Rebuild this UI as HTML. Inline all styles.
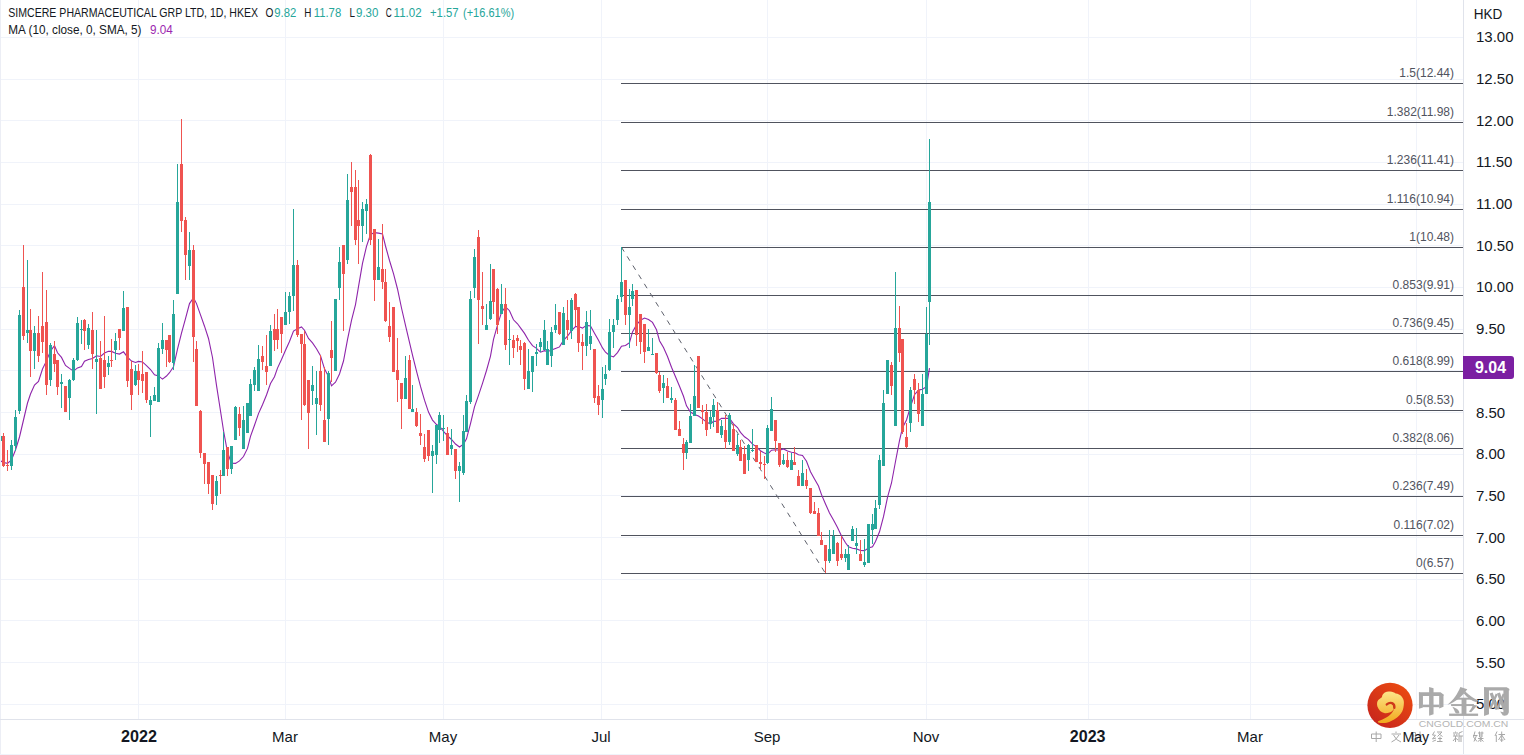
<!DOCTYPE html>
<html><head><meta charset="utf-8">
<style>
html,body{margin:0;padding:0;background:#fff;}
body{width:1524px;height:755px;overflow:hidden;position:relative;font-family:"Liberation Sans",sans-serif;}
svg{position:absolute;left:0;top:0;}
.fl{font-size:12px;fill:#50535e;font-family:"Liberation Sans",sans-serif;}
.pl{font-size:15px;fill:#131722;font-family:"Liberation Sans",sans-serif;}
.tl{font-size:15px;fill:#131722;font-family:"Liberation Sans",sans-serif;}
.lg{font-size:13px;fill:#131722;font-family:"Liberation Sans",sans-serif;}
</style></head>
<body>
<svg width="1524" height="755" viewBox="0 0 1524 755" shape-rendering="crispEdges">
<rect x="0" y="0" width="1524" height="755" fill="#ffffff"/>
<rect x="0" y="37" width="1463" height="1" fill="#f0f3fa"/><rect x="0" y="79" width="1463" height="1" fill="#f0f3fa"/><rect x="0" y="120" width="1463" height="1" fill="#f0f3fa"/><rect x="0" y="162" width="1463" height="1" fill="#f0f3fa"/><rect x="0" y="204" width="1463" height="1" fill="#f0f3fa"/><rect x="0" y="245" width="1463" height="1" fill="#f0f3fa"/><rect x="0" y="287" width="1463" height="1" fill="#f0f3fa"/><rect x="0" y="329" width="1463" height="1" fill="#f0f3fa"/><rect x="0" y="370" width="1463" height="1" fill="#f0f3fa"/><rect x="0" y="412" width="1463" height="1" fill="#f0f3fa"/><rect x="0" y="454" width="1463" height="1" fill="#f0f3fa"/><rect x="0" y="495" width="1463" height="1" fill="#f0f3fa"/><rect x="0" y="537" width="1463" height="1" fill="#f0f3fa"/><rect x="0" y="579" width="1463" height="1" fill="#f0f3fa"/><rect x="0" y="620" width="1463" height="1" fill="#f0f3fa"/><rect x="0" y="662" width="1463" height="1" fill="#f0f3fa"/><rect x="0" y="704" width="1463" height="1" fill="#f0f3fa"/><rect x="138" y="0" width="1" height="719" fill="#f0f3fa"/><rect x="285" y="0" width="1" height="719" fill="#f0f3fa"/><rect x="443" y="0" width="1" height="719" fill="#f0f3fa"/><rect x="601" y="0" width="1" height="719" fill="#f0f3fa"/><rect x="767" y="0" width="1" height="719" fill="#f0f3fa"/><rect x="926" y="0" width="1" height="719" fill="#f0f3fa"/><rect x="1088" y="0" width="1" height="719" fill="#f0f3fa"/><rect x="1250" y="0" width="1" height="719" fill="#f0f3fa"/><rect x="1416" y="0" width="1" height="719" fill="#f0f3fa"/>
<rect x="621" y="83" width="842" height="1" fill="#50535e"/><text x="1454" y="77" text-anchor="end" class="fl">1.5(12.44)</text><rect x="621" y="122" width="842" height="1" fill="#50535e"/><text x="1454" y="116" text-anchor="end" class="fl">1.382(11.98)</text><rect x="621" y="170" width="842" height="1" fill="#50535e"/><text x="1454" y="164" text-anchor="end" class="fl">1.236(11.41)</text><rect x="621" y="209" width="842" height="1" fill="#50535e"/><text x="1454" y="203" text-anchor="end" class="fl">1.116(10.94)</text><rect x="621" y="247" width="842" height="1" fill="#50535e"/><text x="1454" y="241" text-anchor="end" class="fl">1(10.48)</text><rect x="621" y="295" width="842" height="1" fill="#50535e"/><text x="1454" y="289" text-anchor="end" class="fl">0.853(9.91)</text><rect x="621" y="333" width="842" height="1" fill="#50535e"/><text x="1454" y="327" text-anchor="end" class="fl">0.736(9.45)</text><rect x="621" y="371" width="842" height="1" fill="#50535e"/><text x="1454" y="365" text-anchor="end" class="fl">0.618(8.99)</text><rect x="621" y="410" width="842" height="1" fill="#50535e"/><text x="1454" y="404" text-anchor="end" class="fl">0.5(8.53)</text><rect x="621" y="448" width="842" height="1" fill="#50535e"/><text x="1454" y="442" text-anchor="end" class="fl">0.382(8.06)</text><rect x="621" y="496" width="842" height="1" fill="#50535e"/><text x="1454" y="490" text-anchor="end" class="fl">0.236(7.49)</text><rect x="621" y="535" width="842" height="1" fill="#50535e"/><text x="1454" y="529" text-anchor="end" class="fl">0.116(7.02)</text><rect x="621" y="573" width="842" height="1" fill="#50535e"/><text x="1454" y="567" text-anchor="end" class="fl">0(6.57)</text>
<line x1="621.4" y1="247.2" x2="825.5" y2="573.4" stroke="#5d606b" stroke-width="1" stroke-dasharray="5.2 5.6" shape-rendering="geometricPrecision"/>
<path d="M0.0,460.5 L3.5,462.5 L7.5,463.3 L11.5,460.0 L15.5,450.0 L19.5,437.0 L23.5,420.0 L27.5,403.0 L30.5,394.0 L34.5,385.0 L38.5,381.5 L42.5,369.0 L46.5,360.9 L50.5,350.9 L54.5,345.6 L57.5,352.8 L61.5,357.4 L65.5,365.5 L69.5,368.4 L73.5,371.1 L77.5,367.9 L81.5,366.6 L84.5,361.2 L88.5,359.5 L92.5,358.5 L96.5,355.8 L100.5,356.5 L104.5,353.0 L108.5,351.3 L111.5,351.4 L115.5,353.2 L119.5,354.1 L123.5,351.8 L127.5,357.1 L131.5,361.1 L135.5,362.4 L138.5,361.4 L142.5,361.9 L146.5,365.6 L150.5,369.5 L154.5,374.8 L158.5,375.9 L162.5,379.1 L166.5,376.0 L169.5,372.7 L173.5,366.9 L177.5,349.1 L181.5,333.1 L185.5,318.6 L189.5,303.6 L193.5,297.8 L196.5,303.6 L200.5,314.9 L204.5,326.2 L208.5,338.5 L212.5,357.5 L216.5,385.4 L220.5,411.0 L223.5,430.5 L227.5,452.4 L231.5,463.3 L235.5,463.4 L239.5,460.9 L243.5,456.5 L247.5,448.4 L250.5,436.4 L254.5,425.3 L258.5,413.6 L262.5,404.7 L266.5,395.0 L270.5,383.5 L274.5,376.8 L277.5,368.1 L281.5,359.5 L285.5,350.3 L289.5,341.5 L293.5,331.1 L297.5,328.7 L301.5,326.9 L304.5,330.2 L308.5,338.4 L312.5,342.9 L316.5,348.7 L320.5,355.8 L324.5,368.8 L328.5,376.5 L331.5,385.8 L335.5,382.2 L339.5,374.0 L343.5,361.0 L347.5,339.7 L351.5,320.4 L355.5,304.6 L358.5,286.6 L362.5,263.4 L366.5,246.4 L370.5,234.5 L374.5,232.6 L378.5,233.1 L382.5,233.9 L385.5,246.0 L389.5,260.5 L393.5,273.6 L397.5,289.0 L401.5,308.0 L405.5,325.4 L409.5,342.3 L412.5,355.2 L416.5,371.1 L420.5,386.4 L424.5,400.2 L428.5,412.1 L432.5,420.1 L436.5,424.6 L439.5,426.2 L443.5,431.3 L447.5,435.9 L451.5,439.5 L455.5,444.0 L459.5,447.0 L463.5,444.2 L466.5,438.8 L470.5,423.6 L474.5,406.8 L478.5,395.4 L482.5,383.4 L486.5,370.5 L490.5,356.1 L493.5,339.3 L497.5,325.1 L501.5,312.4 L505.5,306.8 L509.5,310.7 L513.5,319.8 L517.5,323.8 L520.5,327.9 L524.5,333.4 L528.5,340.3 L532.5,345.7 L536.5,348.4 L540.5,352.2 L544.5,350.7 L547.5,351.7 L551.5,350.1 L555.5,348.5 L559.5,346.9 L563.5,340.3 L567.5,336.2 L571.5,330.6 L575.5,326.5 L578.5,326.6 L582.5,328.1 L586.5,325.4 L590.5,325.9 L594.5,333.2 L598.5,340.2 L602.5,347.9 L605.5,352.2 L609.5,355.5 L613.5,356.9 L617.5,352.6 L621.5,346.2 L625.5,345.5 L629.5,342.6 L632.5,331.9 L636.5,324.9 L640.5,320.2 L644.5,318.1 L648.5,319.6 L652.5,322.4 L656.5,329.8 L659.5,340.7 L663.5,347.5 L667.5,356.5 L671.5,367.3 L675.5,376.8 L679.5,386.2 L683.5,396.3 L686.5,405.8 L690.5,412.1 L694.5,414.4 L698.5,416.1 L702.5,418.9 L706.5,422.1 L710.5,424.0 L713.5,421.4 L717.5,421.2 L721.5,418.4 L725.5,418.4 L729.5,418.3 L733.5,423.8 L737.5,427.5 L740.5,432.4 L744.5,436.8 L748.5,439.6 L752.5,444.1 L756.5,446.9 L760.5,450.7 L764.5,453.1 L767.5,454.4 L771.5,450.2 L775.5,449.8 L779.5,450.3 L783.5,448.9 L787.5,451.1 L791.5,452.2 L794.5,452.6 L798.5,454.7 L802.5,455.5 L806.5,461.2 L810.5,471.7 L814.5,479.0 L818.5,486.1 L821.5,494.6 L825.5,504.0 L829.5,512.9 L833.5,520.0 L837.5,527.5 L841.5,536.0 L845.5,542.8 L848.5,546.8 L852.5,548.3 L856.5,548.9 L860.5,550.5 L864.5,550.6 L868.5,548.1 L872.5,546.8 L875.5,541.5 L879.5,531.8 L883.5,516.7 L887.5,497.4 L891.5,483.0 L895.5,461.5 L899.5,440.7 L902.5,427.7 L906.5,420.0 L910.5,406.6 L914.5,394.7 L918.5,390.1 L922.5,389.2 L926.5,386.6 L929.5,368.2" fill="none" stroke="#8e24aa" stroke-width="1.1" shape-rendering="geometricPrecision"/>
<g><rect x="0" y="433" width="1" height="16" fill="#26a69a"/><rect x="-1" y="436" width="3" height="5" fill="#26a69a"/><rect x="3" y="433" width="1" height="34" fill="#ef5350"/><rect x="2" y="436" width="3" height="30" fill="#ef5350"/><rect x="7" y="450" width="1" height="21" fill="#ef5350"/><rect x="6" y="465" width="3" height="1" fill="#ef5350"/><rect x="11" y="440" width="1" height="30" fill="#26a69a"/><rect x="10" y="445" width="3" height="21" fill="#26a69a"/><rect x="15" y="410" width="1" height="41" fill="#26a69a"/><rect x="14" y="417" width="3" height="29" fill="#26a69a"/><rect x="19" y="310" width="1" height="104" fill="#26a69a"/><rect x="18" y="315" width="3" height="96" fill="#26a69a"/><rect x="23" y="245" width="1" height="95" fill="#ef5350"/><rect x="22" y="287" width="3" height="49" fill="#ef5350"/><rect x="27" y="260" width="1" height="83" fill="#26a69a"/><rect x="26" y="330" width="3" height="3" fill="#26a69a"/><rect x="30" y="309" width="1" height="68" fill="#ef5350"/><rect x="29" y="330" width="3" height="21" fill="#ef5350"/><rect x="34" y="326" width="1" height="43" fill="#26a69a"/><rect x="33" y="333" width="3" height="18" fill="#26a69a"/><rect x="38" y="316" width="1" height="46" fill="#ef5350"/><rect x="37" y="333" width="3" height="23" fill="#ef5350"/><rect x="42" y="272" width="1" height="81" fill="#ef5350"/><rect x="41" y="326" width="3" height="16" fill="#ef5350"/><rect x="46" y="290" width="1" height="105" fill="#ef5350"/><rect x="45" y="322" width="3" height="63" fill="#ef5350"/><rect x="50" y="343" width="1" height="43" fill="#26a69a"/><rect x="49" y="345" width="3" height="35" fill="#26a69a"/><rect x="54" y="341" width="1" height="31" fill="#ef5350"/><rect x="53" y="354" width="3" height="10" fill="#ef5350"/><rect x="57" y="360" width="1" height="35" fill="#ef5350"/><rect x="56" y="360" width="3" height="27" fill="#ef5350"/><rect x="61" y="374" width="1" height="34" fill="#26a69a"/><rect x="60" y="382" width="3" height="2" fill="#26a69a"/><rect x="65" y="386" width="1" height="26" fill="#ef5350"/><rect x="64" y="386" width="3" height="26" fill="#ef5350"/><rect x="69" y="379" width="1" height="41" fill="#26a69a"/><rect x="68" y="380" width="3" height="18" fill="#26a69a"/><rect x="73" y="358" width="1" height="23" fill="#26a69a"/><rect x="72" y="360" width="3" height="20" fill="#26a69a"/><rect x="77" y="317" width="1" height="44" fill="#26a69a"/><rect x="76" y="323" width="3" height="37" fill="#26a69a"/><rect x="81" y="320" width="1" height="24" fill="#26a69a"/><rect x="80" y="329" width="3" height="1" fill="#26a69a"/><rect x="84" y="319" width="1" height="31" fill="#ef5350"/><rect x="83" y="320" width="3" height="11" fill="#ef5350"/><rect x="88" y="324" width="1" height="25" fill="#26a69a"/><rect x="87" y="328" width="3" height="17" fill="#26a69a"/><rect x="92" y="312" width="1" height="57" fill="#ef5350"/><rect x="91" y="330" width="3" height="24" fill="#ef5350"/><rect x="96" y="330" width="1" height="84" fill="#26a69a"/><rect x="95" y="359" width="3" height="3" fill="#26a69a"/><rect x="100" y="341" width="1" height="48" fill="#ef5350"/><rect x="99" y="358" width="3" height="31" fill="#ef5350"/><rect x="104" y="316" width="1" height="72" fill="#ef5350"/><rect x="103" y="360" width="3" height="17" fill="#ef5350"/><rect x="108" y="356" width="1" height="19" fill="#26a69a"/><rect x="107" y="363" width="3" height="4" fill="#26a69a"/><rect x="111" y="339" width="1" height="28" fill="#ef5350"/><rect x="110" y="360" width="3" height="1" fill="#ef5350"/><rect x="115" y="333" width="1" height="27" fill="#26a69a"/><rect x="114" y="341" width="3" height="9" fill="#26a69a"/><rect x="119" y="329" width="1" height="21" fill="#ef5350"/><rect x="118" y="329" width="3" height="9" fill="#ef5350"/><rect x="123" y="291" width="1" height="40" fill="#26a69a"/><rect x="122" y="308" width="3" height="23" fill="#26a69a"/><rect x="127" y="307" width="1" height="80" fill="#ef5350"/><rect x="126" y="307" width="3" height="74" fill="#ef5350"/><rect x="131" y="361" width="1" height="49" fill="#ef5350"/><rect x="130" y="369" width="3" height="26" fill="#ef5350"/><rect x="135" y="365" width="1" height="21" fill="#26a69a"/><rect x="134" y="371" width="3" height="14" fill="#26a69a"/><rect x="138" y="364" width="1" height="31" fill="#ef5350"/><rect x="137" y="371" width="3" height="9" fill="#ef5350"/><rect x="142" y="351" width="1" height="42" fill="#ef5350"/><rect x="141" y="374" width="3" height="7" fill="#ef5350"/><rect x="146" y="372" width="1" height="31" fill="#ef5350"/><rect x="145" y="372" width="3" height="28" fill="#ef5350"/><rect x="150" y="396" width="1" height="41" fill="#26a69a"/><rect x="149" y="400" width="3" height="5" fill="#26a69a"/><rect x="154" y="387" width="1" height="14" fill="#26a69a"/><rect x="153" y="395" width="3" height="6" fill="#26a69a"/><rect x="158" y="343" width="1" height="59" fill="#26a69a"/><rect x="157" y="348" width="3" height="54" fill="#26a69a"/><rect x="162" y="323" width="1" height="31" fill="#26a69a"/><rect x="161" y="340" width="3" height="9" fill="#26a69a"/><rect x="166" y="340" width="1" height="27" fill="#ef5350"/><rect x="165" y="340" width="3" height="10" fill="#ef5350"/><rect x="169" y="335" width="1" height="28" fill="#ef5350"/><rect x="168" y="335" width="3" height="27" fill="#ef5350"/><rect x="173" y="300" width="1" height="70" fill="#26a69a"/><rect x="172" y="314" width="3" height="49" fill="#26a69a"/><rect x="177" y="164" width="1" height="130" fill="#26a69a"/><rect x="176" y="202" width="3" height="92" fill="#26a69a"/><rect x="181" y="119" width="1" height="113" fill="#ef5350"/><rect x="180" y="164" width="3" height="57" fill="#ef5350"/><rect x="185" y="217" width="1" height="63" fill="#ef5350"/><rect x="184" y="220" width="3" height="35" fill="#ef5350"/><rect x="189" y="232" width="1" height="48" fill="#26a69a"/><rect x="188" y="250" width="3" height="16" fill="#26a69a"/><rect x="193" y="245" width="1" height="117" fill="#ef5350"/><rect x="192" y="250" width="3" height="87" fill="#ef5350"/><rect x="196" y="341" width="1" height="65" fill="#ef5350"/><rect x="195" y="349" width="3" height="57" fill="#ef5350"/><rect x="200" y="410" width="1" height="48" fill="#ef5350"/><rect x="199" y="411" width="3" height="42" fill="#ef5350"/><rect x="204" y="453" width="1" height="31" fill="#ef5350"/><rect x="203" y="453" width="3" height="11" fill="#ef5350"/><rect x="208" y="462" width="1" height="32" fill="#ef5350"/><rect x="207" y="462" width="3" height="22" fill="#ef5350"/><rect x="212" y="475" width="1" height="35" fill="#ef5350"/><rect x="211" y="475" width="3" height="29" fill="#ef5350"/><rect x="216" y="476" width="1" height="29" fill="#26a69a"/><rect x="215" y="481" width="3" height="15" fill="#26a69a"/><rect x="220" y="470" width="1" height="24" fill="#ef5350"/><rect x="219" y="475" width="3" height="1" fill="#ef5350"/><rect x="223" y="432" width="1" height="44" fill="#26a69a"/><rect x="222" y="450" width="3" height="26" fill="#26a69a"/><rect x="227" y="447" width="1" height="29" fill="#ef5350"/><rect x="226" y="447" width="3" height="22" fill="#ef5350"/><rect x="231" y="446" width="1" height="28" fill="#26a69a"/><rect x="230" y="446" width="3" height="23" fill="#26a69a"/><rect x="235" y="406" width="1" height="34" fill="#26a69a"/><rect x="234" y="407" width="3" height="33" fill="#26a69a"/><rect x="239" y="407" width="1" height="29" fill="#ef5350"/><rect x="238" y="414" width="3" height="14" fill="#ef5350"/><rect x="243" y="406" width="1" height="43" fill="#26a69a"/><rect x="242" y="420" width="3" height="29" fill="#26a69a"/><rect x="247" y="403" width="1" height="30" fill="#26a69a"/><rect x="246" y="403" width="3" height="30" fill="#26a69a"/><rect x="250" y="379" width="1" height="37" fill="#26a69a"/><rect x="249" y="384" width="3" height="32" fill="#26a69a"/><rect x="254" y="367" width="1" height="24" fill="#26a69a"/><rect x="253" y="370" width="3" height="15" fill="#26a69a"/><rect x="258" y="345" width="1" height="46" fill="#26a69a"/><rect x="257" y="359" width="3" height="32" fill="#26a69a"/><rect x="262" y="346" width="1" height="24" fill="#ef5350"/><rect x="261" y="356" width="3" height="6" fill="#ef5350"/><rect x="266" y="335" width="1" height="50" fill="#ef5350"/><rect x="265" y="366" width="3" height="6" fill="#ef5350"/><rect x="270" y="325" width="1" height="41" fill="#26a69a"/><rect x="269" y="331" width="3" height="35" fill="#26a69a"/><rect x="274" y="314" width="1" height="37" fill="#ef5350"/><rect x="273" y="329" width="3" height="11" fill="#ef5350"/><rect x="277" y="309" width="1" height="40" fill="#ef5350"/><rect x="276" y="329" width="3" height="11" fill="#ef5350"/><rect x="281" y="317" width="1" height="36" fill="#ef5350"/><rect x="280" y="317" width="3" height="17" fill="#ef5350"/><rect x="285" y="292" width="1" height="33" fill="#26a69a"/><rect x="284" y="312" width="3" height="13" fill="#26a69a"/><rect x="289" y="292" width="1" height="32" fill="#26a69a"/><rect x="288" y="296" width="3" height="16" fill="#26a69a"/><rect x="293" y="209" width="1" height="102" fill="#26a69a"/><rect x="292" y="265" width="3" height="31" fill="#26a69a"/><rect x="297" y="260" width="1" height="77" fill="#ef5350"/><rect x="296" y="265" width="3" height="70" fill="#ef5350"/><rect x="301" y="334" width="1" height="86" fill="#ef5350"/><rect x="300" y="334" width="3" height="10" fill="#ef5350"/><rect x="304" y="331" width="1" height="75" fill="#ef5350"/><rect x="303" y="344" width="3" height="61" fill="#ef5350"/><rect x="308" y="380" width="1" height="69" fill="#ef5350"/><rect x="307" y="380" width="3" height="33" fill="#ef5350"/><rect x="312" y="366" width="1" height="39" fill="#26a69a"/><rect x="311" y="385" width="3" height="6" fill="#26a69a"/><rect x="316" y="371" width="1" height="64" fill="#26a69a"/><rect x="315" y="398" width="3" height="6" fill="#26a69a"/><rect x="320" y="355" width="1" height="56" fill="#ef5350"/><rect x="319" y="371" width="3" height="34" fill="#ef5350"/><rect x="324" y="367" width="1" height="75" fill="#ef5350"/><rect x="323" y="420" width="3" height="22" fill="#ef5350"/><rect x="328" y="371" width="1" height="74" fill="#26a69a"/><rect x="327" y="373" width="3" height="46" fill="#26a69a"/><rect x="331" y="321" width="1" height="61" fill="#ef5350"/><rect x="330" y="350" width="3" height="8" fill="#ef5350"/><rect x="335" y="299" width="1" height="72" fill="#26a69a"/><rect x="334" y="299" width="3" height="72" fill="#26a69a"/><rect x="339" y="247" width="1" height="53" fill="#26a69a"/><rect x="338" y="262" width="3" height="26" fill="#26a69a"/><rect x="343" y="245" width="1" height="86" fill="#ef5350"/><rect x="342" y="245" width="3" height="29" fill="#ef5350"/><rect x="347" y="174" width="1" height="90" fill="#26a69a"/><rect x="346" y="200" width="3" height="60" fill="#26a69a"/><rect x="351" y="162" width="1" height="64" fill="#ef5350"/><rect x="350" y="187" width="3" height="5" fill="#ef5350"/><rect x="355" y="170" width="1" height="75" fill="#ef5350"/><rect x="354" y="187" width="3" height="53" fill="#ef5350"/><rect x="358" y="180" width="1" height="84" fill="#ef5350"/><rect x="357" y="220" width="3" height="6" fill="#ef5350"/><rect x="362" y="202" width="1" height="40" fill="#26a69a"/><rect x="361" y="209" width="3" height="17" fill="#26a69a"/><rect x="366" y="199" width="1" height="35" fill="#26a69a"/><rect x="365" y="204" width="3" height="7" fill="#26a69a"/><rect x="370" y="154" width="1" height="91" fill="#ef5350"/><rect x="369" y="155" width="3" height="85" fill="#ef5350"/><rect x="374" y="229" width="1" height="72" fill="#ef5350"/><rect x="373" y="229" width="3" height="51" fill="#ef5350"/><rect x="378" y="239" width="1" height="41" fill="#26a69a"/><rect x="377" y="267" width="3" height="13" fill="#26a69a"/><rect x="382" y="224" width="1" height="65" fill="#ef5350"/><rect x="381" y="269" width="3" height="13" fill="#ef5350"/><rect x="385" y="269" width="1" height="53" fill="#ef5350"/><rect x="384" y="282" width="3" height="39" fill="#ef5350"/><rect x="389" y="302" width="1" height="40" fill="#ef5350"/><rect x="388" y="326" width="3" height="11" fill="#ef5350"/><rect x="393" y="307" width="1" height="65" fill="#ef5350"/><rect x="392" y="307" width="3" height="65" fill="#ef5350"/><rect x="397" y="338" width="1" height="64" fill="#ef5350"/><rect x="396" y="370" width="3" height="10" fill="#ef5350"/><rect x="401" y="383" width="1" height="46" fill="#ef5350"/><rect x="400" y="383" width="3" height="16" fill="#ef5350"/><rect x="405" y="356" width="1" height="43" fill="#26a69a"/><rect x="404" y="378" width="3" height="21" fill="#26a69a"/><rect x="409" y="355" width="1" height="54" fill="#ef5350"/><rect x="408" y="360" width="3" height="49" fill="#ef5350"/><rect x="412" y="385" width="1" height="27" fill="#26a69a"/><rect x="411" y="409" width="3" height="3" fill="#26a69a"/><rect x="416" y="408" width="1" height="19" fill="#ef5350"/><rect x="415" y="412" width="3" height="14" fill="#ef5350"/><rect x="420" y="414" width="1" height="31" fill="#ef5350"/><rect x="419" y="433" width="3" height="3" fill="#ef5350"/><rect x="424" y="434" width="1" height="28" fill="#ef5350"/><rect x="423" y="447" width="3" height="12" fill="#ef5350"/><rect x="428" y="430" width="1" height="31" fill="#ef5350"/><rect x="427" y="430" width="3" height="26" fill="#ef5350"/><rect x="432" y="445" width="1" height="48" fill="#26a69a"/><rect x="431" y="451" width="3" height="5" fill="#26a69a"/><rect x="436" y="425" width="1" height="39" fill="#26a69a"/><rect x="435" y="425" width="3" height="30" fill="#26a69a"/><rect x="439" y="412" width="1" height="31" fill="#26a69a"/><rect x="438" y="415" width="3" height="15" fill="#26a69a"/><rect x="443" y="415" width="1" height="26" fill="#26a69a"/><rect x="442" y="428" width="3" height="1" fill="#26a69a"/><rect x="447" y="427" width="1" height="28" fill="#ef5350"/><rect x="446" y="433" width="3" height="22" fill="#ef5350"/><rect x="451" y="429" width="1" height="26" fill="#26a69a"/><rect x="450" y="445" width="3" height="4" fill="#26a69a"/><rect x="455" y="449" width="1" height="30" fill="#ef5350"/><rect x="454" y="449" width="3" height="22" fill="#ef5350"/><rect x="459" y="462" width="1" height="40" fill="#26a69a"/><rect x="458" y="466" width="3" height="5" fill="#26a69a"/><rect x="463" y="415" width="1" height="60" fill="#26a69a"/><rect x="462" y="431" width="3" height="42" fill="#26a69a"/><rect x="466" y="395" width="1" height="37" fill="#26a69a"/><rect x="465" y="401" width="3" height="31" fill="#26a69a"/><rect x="470" y="291" width="1" height="113" fill="#26a69a"/><rect x="469" y="299" width="3" height="103" fill="#26a69a"/><rect x="474" y="249" width="1" height="49" fill="#26a69a"/><rect x="473" y="257" width="3" height="31" fill="#26a69a"/><rect x="478" y="230" width="1" height="114" fill="#ef5350"/><rect x="477" y="237" width="3" height="63" fill="#ef5350"/><rect x="482" y="272" width="1" height="53" fill="#ef5350"/><rect x="481" y="306" width="3" height="3" fill="#ef5350"/><rect x="486" y="304" width="1" height="26" fill="#26a69a"/><rect x="485" y="325" width="3" height="5" fill="#26a69a"/><rect x="490" y="264" width="1" height="56" fill="#26a69a"/><rect x="489" y="301" width="3" height="18" fill="#26a69a"/><rect x="493" y="269" width="1" height="45" fill="#ef5350"/><rect x="492" y="269" width="3" height="33" fill="#ef5350"/><rect x="497" y="288" width="1" height="46" fill="#ef5350"/><rect x="496" y="289" width="3" height="36" fill="#ef5350"/><rect x="501" y="284" width="1" height="30" fill="#26a69a"/><rect x="500" y="304" width="3" height="10" fill="#26a69a"/><rect x="505" y="288" width="1" height="62" fill="#ef5350"/><rect x="504" y="304" width="3" height="41" fill="#ef5350"/><rect x="509" y="320" width="1" height="45" fill="#26a69a"/><rect x="508" y="339" width="3" height="1" fill="#26a69a"/><rect x="513" y="335" width="1" height="23" fill="#ef5350"/><rect x="512" y="340" width="3" height="8" fill="#ef5350"/><rect x="517" y="335" width="1" height="17" fill="#ef5350"/><rect x="516" y="338" width="3" height="3" fill="#ef5350"/><rect x="520" y="340" width="1" height="25" fill="#ef5350"/><rect x="519" y="346" width="3" height="4" fill="#ef5350"/><rect x="524" y="342" width="1" height="48" fill="#ef5350"/><rect x="523" y="343" width="3" height="36" fill="#ef5350"/><rect x="528" y="349" width="1" height="40" fill="#26a69a"/><rect x="527" y="371" width="3" height="18" fill="#26a69a"/><rect x="532" y="356" width="1" height="36" fill="#26a69a"/><rect x="531" y="356" width="3" height="16" fill="#26a69a"/><rect x="536" y="344" width="1" height="22" fill="#26a69a"/><rect x="535" y="352" width="3" height="2" fill="#26a69a"/><rect x="540" y="338" width="1" height="14" fill="#26a69a"/><rect x="539" y="342" width="3" height="5" fill="#26a69a"/><rect x="544" y="320" width="1" height="30" fill="#26a69a"/><rect x="543" y="330" width="3" height="20" fill="#26a69a"/><rect x="547" y="341" width="1" height="24" fill="#26a69a"/><rect x="546" y="349" width="3" height="16" fill="#26a69a"/><rect x="551" y="327" width="1" height="40" fill="#26a69a"/><rect x="550" y="332" width="3" height="24" fill="#26a69a"/><rect x="555" y="304" width="1" height="29" fill="#26a69a"/><rect x="554" y="325" width="3" height="5" fill="#26a69a"/><rect x="559" y="312" width="1" height="23" fill="#ef5350"/><rect x="558" y="312" width="3" height="22" fill="#ef5350"/><rect x="563" y="307" width="1" height="38" fill="#26a69a"/><rect x="562" y="313" width="3" height="32" fill="#26a69a"/><rect x="567" y="300" width="1" height="40" fill="#ef5350"/><rect x="566" y="320" width="3" height="10" fill="#ef5350"/><rect x="571" y="298" width="1" height="41" fill="#26a69a"/><rect x="570" y="300" width="3" height="31" fill="#26a69a"/><rect x="575" y="293" width="1" height="33" fill="#ef5350"/><rect x="574" y="294" width="3" height="16" fill="#ef5350"/><rect x="578" y="307" width="1" height="45" fill="#ef5350"/><rect x="577" y="307" width="3" height="36" fill="#ef5350"/><rect x="582" y="334" width="1" height="36" fill="#ef5350"/><rect x="581" y="342" width="3" height="4" fill="#ef5350"/><rect x="586" y="311" width="1" height="45" fill="#26a69a"/><rect x="585" y="322" width="3" height="24" fill="#26a69a"/><rect x="590" y="310" width="1" height="40" fill="#26a69a"/><rect x="589" y="336" width="3" height="8" fill="#26a69a"/><rect x="594" y="349" width="1" height="54" fill="#ef5350"/><rect x="593" y="349" width="3" height="49" fill="#ef5350"/><rect x="598" y="385" width="1" height="30" fill="#ef5350"/><rect x="597" y="396" width="3" height="9" fill="#ef5350"/><rect x="602" y="367" width="1" height="51" fill="#26a69a"/><rect x="601" y="389" width="3" height="11" fill="#26a69a"/><rect x="605" y="365" width="1" height="20" fill="#26a69a"/><rect x="604" y="374" width="3" height="5" fill="#26a69a"/><rect x="609" y="319" width="1" height="52" fill="#26a69a"/><rect x="608" y="332" width="3" height="38" fill="#26a69a"/><rect x="613" y="319" width="1" height="29" fill="#26a69a"/><rect x="612" y="325" width="3" height="7" fill="#26a69a"/><rect x="617" y="295" width="1" height="30" fill="#26a69a"/><rect x="616" y="299" width="3" height="21" fill="#26a69a"/><rect x="621" y="247" width="1" height="55" fill="#26a69a"/><rect x="620" y="282" width="3" height="15" fill="#26a69a"/><rect x="625" y="280" width="1" height="45" fill="#ef5350"/><rect x="624" y="280" width="3" height="35" fill="#ef5350"/><rect x="629" y="289" width="1" height="59" fill="#26a69a"/><rect x="628" y="307" width="3" height="8" fill="#26a69a"/><rect x="632" y="284" width="1" height="22" fill="#26a69a"/><rect x="631" y="291" width="3" height="8" fill="#26a69a"/><rect x="636" y="290" width="1" height="56" fill="#ef5350"/><rect x="635" y="290" width="3" height="45" fill="#ef5350"/><rect x="640" y="314" width="1" height="40" fill="#ef5350"/><rect x="639" y="314" width="3" height="28" fill="#ef5350"/><rect x="644" y="324" width="1" height="39" fill="#ef5350"/><rect x="643" y="324" width="3" height="28" fill="#ef5350"/><rect x="648" y="329" width="1" height="22" fill="#26a69a"/><rect x="647" y="347" width="3" height="4" fill="#26a69a"/><rect x="652" y="338" width="1" height="17" fill="#26a69a"/><rect x="651" y="354" width="3" height="1" fill="#26a69a"/><rect x="656" y="353" width="1" height="21" fill="#ef5350"/><rect x="655" y="353" width="3" height="20" fill="#ef5350"/><rect x="659" y="372" width="1" height="21" fill="#ef5350"/><rect x="658" y="375" width="3" height="16" fill="#ef5350"/><rect x="663" y="375" width="1" height="28" fill="#26a69a"/><rect x="662" y="383" width="3" height="5" fill="#26a69a"/><rect x="667" y="378" width="1" height="20" fill="#ef5350"/><rect x="666" y="386" width="3" height="12" fill="#ef5350"/><rect x="671" y="387" width="1" height="16" fill="#26a69a"/><rect x="670" y="398" width="3" height="2" fill="#26a69a"/><rect x="675" y="398" width="1" height="32" fill="#ef5350"/><rect x="674" y="400" width="3" height="30" fill="#ef5350"/><rect x="679" y="421" width="1" height="15" fill="#ef5350"/><rect x="678" y="429" width="3" height="7" fill="#ef5350"/><rect x="683" y="438" width="1" height="32" fill="#ef5350"/><rect x="682" y="444" width="3" height="9" fill="#ef5350"/><rect x="686" y="440" width="1" height="19" fill="#26a69a"/><rect x="685" y="442" width="3" height="11" fill="#26a69a"/><rect x="690" y="404" width="1" height="39" fill="#26a69a"/><rect x="689" y="416" width="3" height="27" fill="#26a69a"/><rect x="694" y="365" width="1" height="51" fill="#26a69a"/><rect x="693" y="396" width="3" height="20" fill="#26a69a"/><rect x="698" y="356" width="1" height="52" fill="#ef5350"/><rect x="697" y="356" width="3" height="52" fill="#ef5350"/><rect x="702" y="405" width="1" height="19" fill="#ef5350"/><rect x="701" y="410" width="3" height="2" fill="#ef5350"/><rect x="706" y="404" width="1" height="32" fill="#ef5350"/><rect x="705" y="412" width="3" height="18" fill="#ef5350"/><rect x="710" y="411" width="1" height="18" fill="#26a69a"/><rect x="709" y="417" width="3" height="7" fill="#26a69a"/><rect x="713" y="399" width="1" height="28" fill="#26a69a"/><rect x="712" y="405" width="3" height="12" fill="#26a69a"/><rect x="717" y="402" width="1" height="31" fill="#ef5350"/><rect x="716" y="410" width="3" height="23" fill="#ef5350"/><rect x="721" y="420" width="1" height="18" fill="#26a69a"/><rect x="720" y="426" width="3" height="9" fill="#26a69a"/><rect x="725" y="415" width="1" height="34" fill="#ef5350"/><rect x="724" y="430" width="3" height="12" fill="#ef5350"/><rect x="729" y="413" width="1" height="32" fill="#26a69a"/><rect x="728" y="415" width="3" height="27" fill="#26a69a"/><rect x="733" y="424" width="1" height="27" fill="#ef5350"/><rect x="732" y="429" width="3" height="22" fill="#ef5350"/><rect x="737" y="434" width="1" height="22" fill="#26a69a"/><rect x="736" y="445" width="3" height="9" fill="#26a69a"/><rect x="740" y="440" width="1" height="21" fill="#ef5350"/><rect x="739" y="447" width="3" height="14" fill="#ef5350"/><rect x="744" y="446" width="1" height="28" fill="#ef5350"/><rect x="743" y="454" width="3" height="20" fill="#ef5350"/><rect x="748" y="444" width="1" height="27" fill="#26a69a"/><rect x="747" y="445" width="3" height="15" fill="#26a69a"/><rect x="752" y="429" width="1" height="23" fill="#26a69a"/><rect x="751" y="450" width="3" height="1" fill="#26a69a"/><rect x="756" y="445" width="1" height="17" fill="#ef5350"/><rect x="755" y="445" width="3" height="17" fill="#ef5350"/><rect x="760" y="451" width="1" height="19" fill="#ef5350"/><rect x="759" y="462" width="3" height="2" fill="#ef5350"/><rect x="764" y="456" width="1" height="23" fill="#ef5350"/><rect x="763" y="464" width="3" height="1" fill="#ef5350"/><rect x="767" y="425" width="1" height="39" fill="#26a69a"/><rect x="766" y="428" width="3" height="35" fill="#26a69a"/><rect x="771" y="397" width="1" height="34" fill="#26a69a"/><rect x="770" y="409" width="3" height="22" fill="#26a69a"/><rect x="775" y="420" width="1" height="32" fill="#ef5350"/><rect x="774" y="420" width="3" height="21" fill="#ef5350"/><rect x="779" y="443" width="1" height="24" fill="#ef5350"/><rect x="778" y="443" width="3" height="22" fill="#ef5350"/><rect x="783" y="454" width="1" height="11" fill="#26a69a"/><rect x="782" y="460" width="3" height="4" fill="#26a69a"/><rect x="787" y="452" width="1" height="16" fill="#ef5350"/><rect x="786" y="460" width="3" height="7" fill="#ef5350"/><rect x="791" y="453" width="1" height="17" fill="#26a69a"/><rect x="790" y="460" width="3" height="10" fill="#26a69a"/><rect x="794" y="447" width="1" height="18" fill="#ef5350"/><rect x="793" y="462" width="3" height="3" fill="#ef5350"/><rect x="798" y="470" width="1" height="16" fill="#ef5350"/><rect x="797" y="476" width="3" height="10" fill="#ef5350"/><rect x="802" y="460" width="1" height="26" fill="#26a69a"/><rect x="801" y="473" width="3" height="13" fill="#26a69a"/><rect x="806" y="469" width="1" height="20" fill="#ef5350"/><rect x="805" y="480" width="3" height="6" fill="#ef5350"/><rect x="810" y="488" width="1" height="26" fill="#ef5350"/><rect x="809" y="488" width="3" height="25" fill="#ef5350"/><rect x="814" y="502" width="1" height="12" fill="#ef5350"/><rect x="813" y="511" width="3" height="3" fill="#ef5350"/><rect x="818" y="508" width="1" height="28" fill="#ef5350"/><rect x="817" y="513" width="3" height="23" fill="#ef5350"/><rect x="821" y="532" width="1" height="13" fill="#ef5350"/><rect x="820" y="540" width="3" height="5" fill="#ef5350"/><rect x="825" y="545" width="1" height="28" fill="#ef5350"/><rect x="824" y="545" width="3" height="16" fill="#ef5350"/><rect x="829" y="530" width="1" height="33" fill="#26a69a"/><rect x="828" y="549" width="3" height="12" fill="#26a69a"/><rect x="833" y="530" width="1" height="24" fill="#26a69a"/><rect x="832" y="536" width="3" height="18" fill="#26a69a"/><rect x="837" y="542" width="1" height="24" fill="#ef5350"/><rect x="836" y="543" width="3" height="18" fill="#ef5350"/><rect x="841" y="536" width="1" height="24" fill="#ef5350"/><rect x="840" y="554" width="3" height="4" fill="#ef5350"/><rect x="845" y="549" width="1" height="13" fill="#26a69a"/><rect x="844" y="554" width="3" height="4" fill="#26a69a"/><rect x="848" y="545" width="1" height="25" fill="#26a69a"/><rect x="847" y="554" width="3" height="16" fill="#26a69a"/><rect x="852" y="526" width="1" height="15" fill="#26a69a"/><rect x="851" y="529" width="3" height="12" fill="#26a69a"/><rect x="856" y="528" width="1" height="26" fill="#26a69a"/><rect x="855" y="543" width="3" height="3" fill="#26a69a"/><rect x="860" y="540" width="1" height="21" fill="#ef5350"/><rect x="859" y="554" width="3" height="7" fill="#ef5350"/><rect x="864" y="539" width="1" height="28" fill="#26a69a"/><rect x="863" y="562" width="3" height="3" fill="#26a69a"/><rect x="868" y="524" width="1" height="39" fill="#26a69a"/><rect x="867" y="524" width="3" height="39" fill="#26a69a"/><rect x="872" y="514" width="1" height="30" fill="#26a69a"/><rect x="871" y="524" width="3" height="6" fill="#26a69a"/><rect x="875" y="500" width="1" height="29" fill="#26a69a"/><rect x="874" y="508" width="3" height="21" fill="#26a69a"/><rect x="879" y="455" width="1" height="54" fill="#26a69a"/><rect x="878" y="460" width="3" height="45" fill="#26a69a"/><rect x="883" y="390" width="1" height="76" fill="#26a69a"/><rect x="882" y="403" width="3" height="63" fill="#26a69a"/><rect x="887" y="360" width="1" height="34" fill="#26a69a"/><rect x="886" y="360" width="3" height="34" fill="#26a69a"/><rect x="891" y="362" width="1" height="33" fill="#ef5350"/><rect x="890" y="365" width="3" height="21" fill="#ef5350"/><rect x="895" y="272" width="1" height="154" fill="#26a69a"/><rect x="894" y="328" width="3" height="98" fill="#26a69a"/><rect x="899" y="306" width="1" height="56" fill="#ef5350"/><rect x="898" y="328" width="3" height="25" fill="#ef5350"/><rect x="902" y="339" width="1" height="95" fill="#ef5350"/><rect x="901" y="339" width="3" height="93" fill="#ef5350"/><rect x="906" y="423" width="1" height="25" fill="#ef5350"/><rect x="905" y="437" width="3" height="10" fill="#ef5350"/><rect x="910" y="387" width="1" height="45" fill="#26a69a"/><rect x="909" y="390" width="3" height="33" fill="#26a69a"/><rect x="914" y="374" width="1" height="30" fill="#ef5350"/><rect x="913" y="379" width="3" height="11" fill="#ef5350"/><rect x="918" y="383" width="1" height="39" fill="#ef5350"/><rect x="917" y="390" width="3" height="24" fill="#ef5350"/><rect x="922" y="374" width="1" height="52" fill="#26a69a"/><rect x="921" y="394" width="3" height="32" fill="#26a69a"/><rect x="926" y="307" width="1" height="87" fill="#26a69a"/><rect x="925" y="334" width="3" height="60" fill="#26a69a"/><rect x="929" y="139" width="1" height="206" fill="#26a69a"/><rect x="928" y="202" width="3" height="100" fill="#26a69a"/></g>


<rect x="1463" y="0" width="1" height="755" fill="#e0e3eb"/>
<rect x="0" y="0" width="1" height="755" fill="#eceef5"/>
<rect x="0" y="719" width="1524" height="1" fill="#e0e3eb"/>
<rect x="0" y="754" width="1524" height="1" fill="#f0f3fa"/>
<g shape-rendering="geometricPrecision">
<text x="1473.8" y="19.1" textLength="28.6" lengthAdjust="spacingAndGlyphs" style="font-size:15.4px;fill:#131722">HKD</text>
<text x="1476" y="42.3" class="pl">13.00</text><text x="1476" y="84.0" class="pl">12.50</text><text x="1476" y="125.7" class="pl">12.00</text><text x="1476" y="167.4" class="pl">11.50</text><text x="1476" y="209.1" class="pl">11.00</text><text x="1476" y="250.7" class="pl">10.50</text><text x="1476" y="292.4" class="pl">10.00</text><text x="1476" y="334.1" class="pl">9.50</text><text x="1476" y="417.5" class="pl">8.50</text><text x="1476" y="459.2" class="pl">8.00</text><text x="1476" y="500.9" class="pl">7.50</text><text x="1476" y="542.5" class="pl">7.00</text><text x="1476" y="584.2" class="pl">6.50</text><text x="1476" y="625.9" class="pl">6.00</text><text x="1476" y="667.6" class="pl">5.50</text><text x="1476" y="709.3" class="pl">5.00</text>
<path d="M1463,356 H1511 Q1514,356 1514,359 V376 Q1514,379 1511,379 H1463 Z" fill="#7b1fa2"/>
<text x="1475" y="373.2" textLength="31" lengthAdjust="spacingAndGlyphs" style="font-size:15.6px;font-weight:bold;fill:#fff">9.04</text>
<text x="121" y="742" textLength="36" lengthAdjust="spacingAndGlyphs" class="tl" style="font-weight:bold;font-size:15.6px">2022</text>
<text x="285" y="742" text-anchor="middle" class="tl">Mar</text>
<text x="443" y="742" text-anchor="middle" class="tl">May</text>
<text x="601" y="742" text-anchor="middle" class="tl">Jul</text>
<text x="767" y="742" text-anchor="middle" class="tl">Sep</text>
<text x="926" y="742" text-anchor="middle" class="tl">Nov</text>
<text x="1069.8" y="742" textLength="35.7" lengthAdjust="spacingAndGlyphs" class="tl" style="font-weight:bold;font-size:15.6px">2023</text>
<text x="1250" y="742" text-anchor="middle" class="tl">Mar</text>

<defs>
<linearGradient id="lgc" x1="0.85" y1="0.1" x2="0.15" y2="0.9">
<stop offset="0" stop-color="#ea4a12"/><stop offset="1" stop-color="#c8261c"/>
</linearGradient>
<linearGradient id="lgy" x1="0" y1="0" x2="0" y2="1">
<stop offset="0" stop-color="#fde68a"/><stop offset="1" stop-color="#f2a81c"/>
</linearGradient>
</defs>
<circle cx="1390" cy="705.3" r="22.6" fill="url(#lgc)"/>
<path d="M1394.3,707.5 C1393.5,710.5 1391.5,712.3 1389.5,712.6 C1387.5,713.3 1385.5,713.5 1384.2,713.1 C1381.5,712.5 1378.5,710 1377.3,706.2 C1376.8,703.5 1377,701.5 1378.3,700 C1379.5,698.8 1381,698 1381.9,697.2 C1382.3,695 1383,693.8 1384.8,692.6 C1386.5,691.5 1388.5,691.3 1390,691.6 C1392.5,691.8 1394.5,692.5 1395.7,693.4 C1398,693.7 1400.3,694.5 1401.4,696.2 C1403,698 1404,700.5 1403.9,702.7 C1403.8,706 1403.3,709 1402.3,711.2 C1400.5,714.5 1398.5,716.5 1396.4,717.9 C1393.5,720 1390,721.8 1386.7,722.7 C1384,723.3 1381,723.2 1378.1,722.4 C1378,722 1378,721.5 1378.1,721.3 C1381,720 1384,718.8 1386.7,717.2 C1389,715.7 1391,714 1392.2,712.4 C1393.3,711 1394,709.5 1394.3,707.5 Z" fill="url(#lgy)"/>
<path d="M1386.8,704.4 C1388.5,703 1390.5,702.6 1392,703.2 C1393.8,704 1394.6,705.8 1394.3,707.8" fill="none" stroke="#cf3a1a" stroke-width="2.4" stroke-linecap="round"/>
<g transform="translate(1414,683) scale(0.066225)" fill="#aaaaaa">
<path d="M228,60 L295,78 L295,470 L228,495 Z"/>
<path d="M75,140 L135,165 L135,370 L75,390 Z"/>
<path d="M75,140 L400,140 L445,175 L445,195 L75,195 Z"/>
<path d="M380,150 L445,175 L445,360 L380,385 Z"/>
<path d="M135,328 L380,328 L380,365 L135,365 Z"/>
<path d="M700,62 L805,95 C730,200 630,290 505,330 C600,255 660,160 700,62 Z"/>
<path d="M770,125 C840,195 900,235 968,262 L945,292 C870,272 805,222 752,160 Z"/>
<path d="M640,222 L865,222 L865,252 L640,252 Z"/>
<path d="M718,230 L792,230 L792,470 L718,470 Z"/>
<path d="M560,318 L905,318 L905,348 L560,348 Z"/>
<path d="M578,358 C640,378 685,410 685,448 C665,472 632,462 620,440 C608,410 600,390 578,358 Z"/>
<path d="M955,338 L862,442 L828,432 C858,402 878,372 888,330 Z"/>
<path d="M530,462 L968,462 L968,497 L530,497 Z"/>
<path d="M1058,62 L1132,90 L1132,470 L1058,497 Z"/>
<path d="M1058,65 L1400,65 L1440,92 L1440,115 L1058,115 Z"/>
<path d="M1350,85 L1432,85 L1432,440 C1422,482 1392,500 1342,492 L1300,430 L1350,440 Z"/>
</g>
<g transform="translate(1414,683) scale(0.066225)" fill="none" stroke="#aaaaaa" stroke-linecap="butt">
<path d="M1165,150 L1255,400" stroke-width="48"/>
<path d="M1250,165 L1150,390" stroke-width="34"/>
<path d="M1275,150 L1365,400" stroke-width="48"/>
<path d="M1355,165 L1262,395" stroke-width="34"/>
</g>
<text x="1418.8" y="727.3" textLength="89.5" lengthAdjust="spacingAndGlyphs" style="font-size:9.2px;fill:#b4b4b4">CNGOLD.COM.CN</text>
<g fill="none" stroke="#a8a8a8" stroke-width="1"><path d="M1371.5,734 h9.5 v4.5 h-9.5 z M1376.2,731.5 v10.5"/><path d="M1396,731.5 v1.5 M1391.5,734 h9.5 M1393.5,735 Q1396,740.5 1401,742 M1399,735 Q1396,740.5 1391.5,742"/><path d="M1412.0,732.5 h3.5 v6.5 h-3.5 z M1413.7,734.5 v3 M1412.5,739.5 l-0.8,2 M1414.5,739.5 l1,2 M1416.5,735 h5.5 M1420.0,731.5 v10.5 M1419.5,736 l-3,4"/><path d="M1434.5,731.5 L1432.5,735 L1435.5,735.3 L1432.5,739 L1436,738 M1432.5,741.5 L1436,740 M1437,732 h5 L1437.5,736.5 M1438.5,733.5 L1442.5,736.5 M1438,738.5 h4 M1440,736.5 v5 M1437,741.5 h5.5"/><path d="M1455.5,731.5 v1 M1453.0,733 h5 M1454.0,734 l0.5,1.5 M1457.0,734 l-0.5,1.5 M1453.0,736 h5 M1455.5,736 v6 M1455.5,738 l-2.5,3 M1455.5,738 l2.5,2 M1462.5,731.5 l-3.5,1.5 M1459.0,733 v9 M1459.0,736 h4 M1461.0,736 v6"/><path d="M1475,731.5 L1473.5,737 L1477,741.5 M1473,735.5 h4.5 M1476.5,735.5 L1474,741.5 M1478,733 h5.5 M1479.5,731.5 v5.5 M1482,731.5 v5.5 M1479.5,735 h2.5 M1479.5,737 h2.5 M1478,738.5 h5.5 M1480.8,737 v5 M1480.8,739 l-2.8,2.5 M1480.8,739 l2.7,2.5"/><path d="M1497.0,731.5 L1495.0,736 M1496.3,735 v7 M1498.5,734.5 h6.5 M1501.7,731.5 v10.5 M1501.7,735 l-3.2,5 M1501.7,735 l3.3,5 M1500.0,740 h3.5"/></g>
<text x="1402.4" y="741.6" textLength="26.7" lengthAdjust="spacingAndGlyphs" style="font-size:14px;fill:#131722">May</text>

<text x="8.3" y="17" textLength="249.8" lengthAdjust="spacingAndGlyphs" style="font-size:12.4px;fill:#131722">SIMCERE PHARMACEUTICAL GRP LTD, 1D, HKEX</text><text x="265.6" y="17" textLength="7.9" lengthAdjust="spacingAndGlyphs" style="font-size:12.4px;fill:#131722">O</text><text x="274.3" y="17" textLength="22.0" lengthAdjust="spacingAndGlyphs" style="font-size:12.4px;fill:#26a69a">9.82</text><text x="304.2" y="17" textLength="7.1" lengthAdjust="spacingAndGlyphs" style="font-size:12.4px;fill:#131722">H</text><text x="313.7" y="17" textLength="27.5" lengthAdjust="spacingAndGlyphs" style="font-size:12.4px;fill:#26a69a">11.78</text><text x="349.5" y="17" textLength="5.5" lengthAdjust="spacingAndGlyphs" style="font-size:12.4px;fill:#131722">L</text><text x="356.0" y="17" textLength="22.4" lengthAdjust="spacingAndGlyphs" style="font-size:12.4px;fill:#26a69a">9.30</text><text x="385.7" y="17" textLength="6.0" lengthAdjust="spacingAndGlyphs" style="font-size:12.4px;fill:#131722">C</text><text x="393.6" y="17" textLength="28.1" lengthAdjust="spacingAndGlyphs" style="font-size:12.4px;fill:#26a69a">11.02</text><text x="430.0" y="17" textLength="28.6" lengthAdjust="spacingAndGlyphs" style="font-size:12.4px;fill:#26a69a">+1.57</text><text x="463.0" y="17" textLength="51.2" lengthAdjust="spacingAndGlyphs" style="font-size:12.4px;fill:#26a69a">(+16.61%)</text><text x="8.3" y="34" textLength="133.2" lengthAdjust="spacingAndGlyphs" style="font-size:12.4px;fill:#131722">MA (10, close, 0, SMA, 5)</text><text x="150.0" y="34" textLength="22.8" lengthAdjust="spacingAndGlyphs" style="font-size:12.4px;fill:#9c27b0">9.04</text>
</g>
</svg>
</body></html>
